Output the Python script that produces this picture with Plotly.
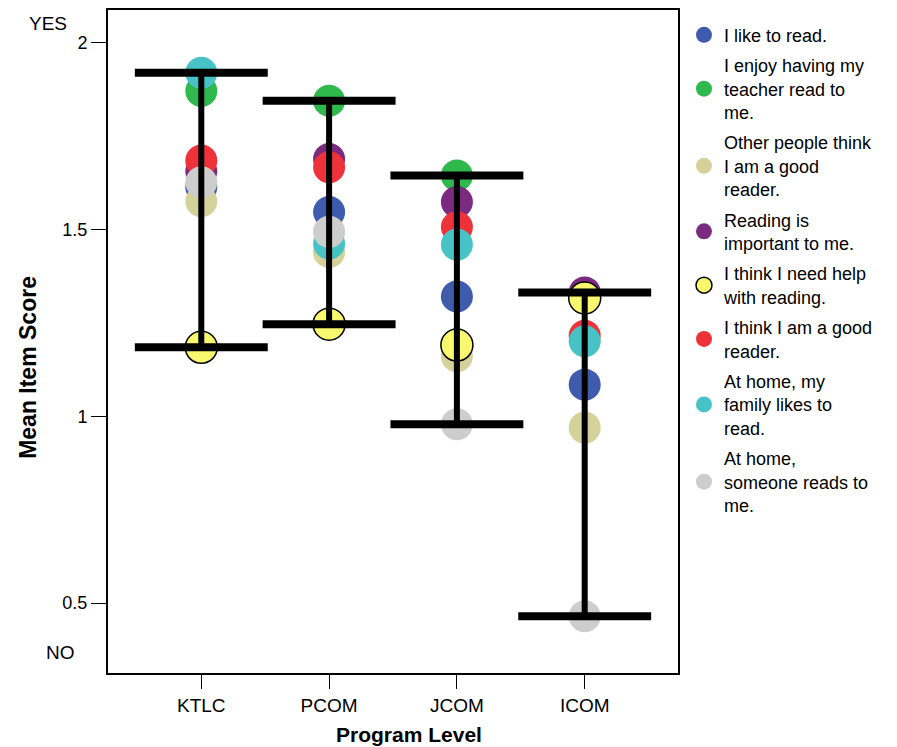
import plotly.graph_objects as go

programs = ["KTLC", "PCOM", "JCOM", "ICOM"]
y_ticks = [0.5, 1, 1.5, 2]
y_tick_labels = ["0.5", "1", "1.5", "2"]

item_names = [
    "I like to read.",
    "I enjoy having my<br>teacher read to<br>me.",
    "Other people think<br>I am a good<br>reader.",
    "Reading is<br>important to me.",
    "I think I need help<br>with reading.",
    "I think I am a good<br>reader.",
    "At home, my<br>family likes to<br>read.",
    "At home,<br>someone reads to<br>me.",
]

like_to_read = [1.614, 1.547, 1.321, 1.085]
enjoy_teacher = [1.871, 1.845, 1.645, 1.320]
others_think = [1.576, 1.440, 1.161, 0.970]
important = [1.656, 1.689, 1.574, 1.332]
need_help = [1.185, 1.247, 1.191, 1.317]
good_reader = [1.685, 1.667, 1.507, 1.216]
family_likes = [1.920, 1.463, 1.460, 1.201]
someone_reads = [1.627, 1.494, 0.979, 0.465]

series = [like_to_read, enjoy_teacher, others_think, important,
          need_help, good_reader, family_likes, someone_reads]
colors = ["#3E5BAD", "#2FB84B", "#D5D19B", "#7A2A7F",
          "#FAF86F", "#EE3239", "#47C3C6", "#CDCDCD"]
outline = [0, 0, 0, 0, 1.5, 0, 0, 0]

xpos = list(range(len(programs)))
fig = go.Figure()

for k, (name, vals, col, lw) in enumerate(zip(item_names, series, colors, outline)):
    fig.add_trace(go.Scatter(
        x=xpos, y=vals, mode="markers", name=name, legendgroup=f"g{k}",
        marker=dict(size=32, color=col, line=dict(color="black", width=lw)),
    ))

# range bars (max/min of item means per program)
ymax = [max(s[i] for s in series) for i in xpos]
ymin = [min(s[i] for s in series) for i in xpos]
half = 0.52
cx, cy, vx, vy = [], [], [], []
for i in xpos:
    cx += [i - half, i + half, None, i - half, i + half, None]
    cy += [ymax[i], ymax[i], None, ymin[i], ymin[i], None]
    vx += [i, i, None]
    vy += [ymax[i], ymin[i], None]
fig.add_trace(go.Scatter(x=vx, y=vy, mode="lines", showlegend=False,
                         line=dict(color="black", width=6), hoverinfo="skip"))
fig.add_trace(go.Scatter(x=cx, y=cy, mode="lines", showlegend=False,
                         line=dict(color="black", width=8), hoverinfo="skip"))

font_family = "Liberation Sans, Arial, sans-serif"
fig.update_layout(
    width=897, height=747,
    margin=dict(l=100, r=227, t=0, b=82),
    paper_bgcolor="white", plot_bgcolor="white",
    font=dict(family=font_family, size=18, color="black"),
    showlegend=True,
    legend=dict(x=1.0105, xanchor="left", y=0.99, yanchor="top",
                font=dict(size=18, family=font_family),
                bgcolor="rgba(0,0,0,0)", itemsizing="trace",
                tracegroupgap=4),
    xaxis=dict(range=[-0.73, 3.73], tickmode="array", tickvals=xpos,
               ticktext=programs, showgrid=False, zeroline=False,
               showline=True, mirror=True, linecolor="black", linewidth=2,
               ticks="outside", ticklen=14, tickwidth=1, tickcolor="black",
               tickfont=dict(size=19)),
    yaxis=dict(range=[0.313, 2.088], tickmode="array", tickvals=y_ticks,
               ticktext=y_tick_labels, showgrid=False, zeroline=False,
               showline=True, mirror=True, linecolor="black", linewidth=2,
               ticks="outside", ticklen=15, tickwidth=1, tickcolor="black",
               tickfont=dict(size=18)),
    annotations=[
        dict(text="YES", x=-0.1053, y=0.979, xref="paper", yref="paper",
             xanchor="center", yanchor="middle",
             showarrow=False, font=dict(size=19)),
        dict(text="NO", x=-0.084, y=0.0316, xref="paper", yref="paper",
             xanchor="center", yanchor="middle",
             showarrow=False, font=dict(size=19)),
        dict(text="<b>Mean Item Score</b>", x=-0.1404, y=0.4617,
             xref="paper", yref="paper", xanchor="center", yanchor="middle",
             textangle=-90, showarrow=False, font=dict(size=23)),
        dict(text="<b>Program Level</b>", x=0.528, y=-0.0932,
             xref="paper", yref="paper", xanchor="center", yanchor="middle",
             showarrow=False, font=dict(size=21)),
    ],
)

fig.write_html("out.html")
